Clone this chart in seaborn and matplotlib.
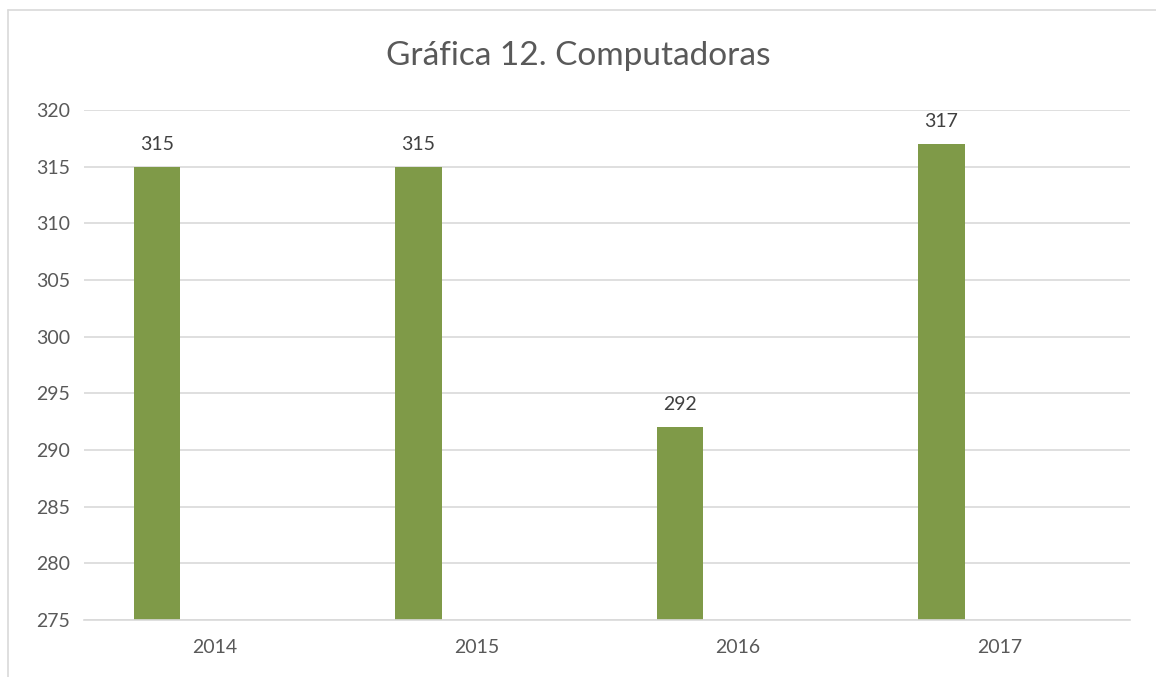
import numpy as np
import pandas as pd
import matplotlib
matplotlib.use("Agg")
import matplotlib.pyplot as plt
import seaborn as sns

# data
years = ["2014", "2015", "2016", "2017"]
computadoras = [315, 315, 292, 317]
series_order = ["Computadoras", "vacia"]  # second slot is empty, as in the original sheet

df = pd.DataFrame({"anio": years, "valor": computadoras, "serie": "Computadoras"})

sns.set_theme(style="white")
plt.rcParams["font.family"] = ["Lato", "DejaVu Sans"]

fig = plt.figure(figsize=(11.56, 6.77), dpi=100)
ax = fig.add_axes([0.0727, 0.0842, 0.9048, 0.7533])

sns.barplot(data=df, x="anio", y="valor", hue="serie", hue_order=series_order,
            order=years, palette=["#7f9a48", "#4f81bd"], width=0.885, gap=0.6,
            dodge=True, legend=False, saturation=1, linewidth=0, ax=ax)

ax.set_ylim(275, 320)
ax.set_yticks(np.arange(275, 321, 5))
ax.set_xlim(-0.5, len(years) - 0.5)
ax.grid(axis="y", color="#d9d9d9", linewidth=1.2)
ax.set_axisbelow(True)
for s in ["top", "right", "left"]:
    ax.spines[s].set_visible(False)
ax.spines["bottom"].set_color("#d9d9d9")
ax.spines["bottom"].set_linewidth(1.2)
ax.tick_params(axis="both", length=0, labelsize=14, colors="#595959", pad=10)
ax.tick_params(axis="x", pad=14)
ax.set_xlabel("")
ax.set_ylabel("")

for c in ax.containers:
    ax.bar_label(c, fmt="%d", padding=10, fontsize=14, color="#404040")

fig.text(0.5, 0.917, "Gráfica 12. Computadoras", ha="center", va="center",
         fontsize=24, color="#595959")

# chart frame (top and left edges visible in the original)
fig.add_artist(plt.Line2D([0.007, 1.0], [0.985, 0.985], color="#d9d9d9", linewidth=1.2))
fig.add_artist(plt.Line2D([0.007, 0.007], [0.0, 0.985], color="#d9d9d9", linewidth=1.2))

fig.savefig("out.png", dpi=100)
